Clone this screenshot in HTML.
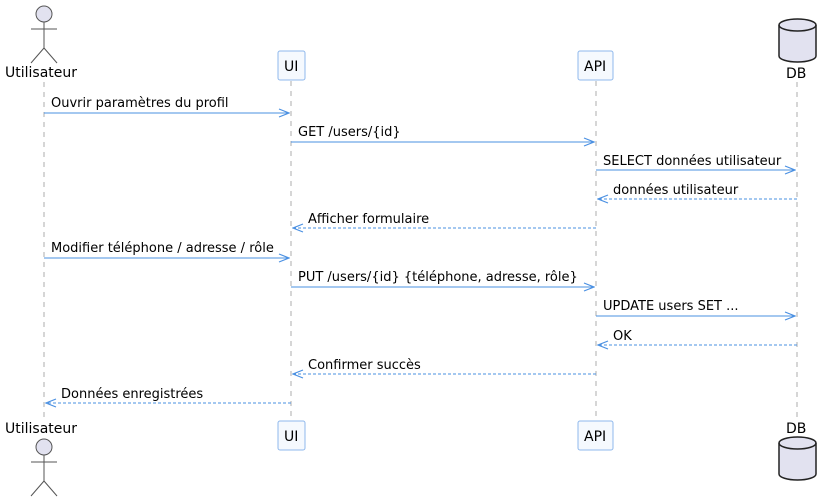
<!DOCTYPE html><html><head><meta charset="utf-8"><style>body{margin:0;background:#fff}svg{display:block}text{font-family:"DejaVu Sans","Liberation Sans",sans-serif;font-size:13px;fill:#000}.p{font-size:14px}</style></head><body>
<svg width="831" height="501" viewBox="0 0 831 501" xmlns="http://www.w3.org/2000/svg">
<defs><marker id="a" markerWidth="12" markerHeight="10" refX="11" refY="5" orient="auto" markerUnits="userSpaceOnUse"><path d="M1,1 L11,5 L1,9" fill="none" stroke="#4a90e2" stroke-width="1.2"/></marker></defs>
<g stroke="#999" stroke-dasharray="5,5" stroke-width="0.8">
<line x1="44" y1="82" x2="44" y2="420"/><line x1="291" y1="81" x2="291" y2="420"/><line x1="596" y1="81" x2="596" y2="420"/><line x1="797" y1="82" x2="797" y2="420"/></g>
<g fill="#e2e2f0" stroke="#555" stroke-width="1">
<circle cx="44" cy="14" r="8"/><line x1="44" y1="22" x2="44" y2="48"/><line x1="31" y1="29" x2="57" y2="29"/><line x1="44" y1="48" x2="31" y2="63"/><line x1="44" y1="48" x2="57" y2="63"/>
<circle cx="44" cy="447" r="8"/><line x1="44" y1="455" x2="44" y2="481"/><line x1="31" y1="462" x2="57" y2="462"/><line x1="44" y1="481" x2="31" y2="496"/><line x1="44" y1="481" x2="57" y2="496"/></g>
<text class="p" x="5" y="77">Utilisateur</text><text class="p" x="5" y="433">Utilisateur</text>
<g fill="#f5f9fe" stroke="#8fb8ec"><rect x="278" y="51" width="27" height="29" rx="2"/><rect x="578" y="51" width="35" height="29" rx="2"/><rect x="278" y="421" width="27" height="29" rx="2"/><rect x="578" y="421" width="35" height="29" rx="2"/></g>
<text class="p" x="284" y="71">UI</text><text class="p" x="584" y="71">API</text><text class="p" x="284" y="441">UI</text><text class="p" x="584" y="441">API</text>
<g fill="#e2e2f0" stroke="#222" stroke-width="1.5">
<path d="M779,25 L779,56 A18.5,6 0 0 0 816,56 L816,25 A18.5,6 0 0 0 779,25 Z"/><path d="M779,25 A18.5,6 0 0 0 816,25" fill="none"/>
<path d="M779,443 L779,474 A18.5,6 0 0 0 816,474 L816,443 A18.5,6 0 0 0 779,443 Z"/><path d="M779,443 A18.5,6 0 0 0 816,443" fill="none"/></g>
<text class="p" x="786" y="78">DB</text><text class="p" x="786" y="433">DB</text>
<g stroke="#4a90e2" stroke-width="1" fill="none" marker-end="url(#a)">
<line x1="44" y1="113" x2="289" y2="113"/><line x1="291" y1="142" x2="594" y2="142"/><line x1="596" y1="170" x2="795" y2="170"/>
<line x1="797" y1="199" x2="598" y2="199" stroke-dasharray="3,2"/><line x1="596" y1="228" x2="293" y2="228" stroke-dasharray="3,2"/>
<line x1="44" y1="258" x2="289" y2="258"/><line x1="291" y1="287" x2="594" y2="287"/><line x1="596" y1="316" x2="795" y2="316"/>
<line x1="797" y1="345" x2="598" y2="345" stroke-dasharray="3,2"/><line x1="596" y1="374" x2="293" y2="374" stroke-dasharray="3,2"/><line x1="291" y1="403" x2="46" y2="403" stroke-dasharray="3,2"/></g>
<text x="51" y="107">Ouvrir paramètres du profil</text>
<text x="298" y="136">GET /users/{id}</text>
<text x="603" y="165">SELECT données utilisateur</text>
<text x="613" y="194">données utilisateur</text>
<text x="308" y="223">Afficher formulaire</text>
<text x="51" y="252">Modifier téléphone / adresse / rôle</text>
<text x="298" y="281">PUT /users/{id} {téléphone, adresse, rôle}</text>
<text x="603" y="310">UPDATE users SET ...</text>
<text x="613" y="340">OK</text>
<text x="308" y="369">Confirmer succès</text>
<text x="61" y="398">Données enregistrées</text>
</svg></body></html>
